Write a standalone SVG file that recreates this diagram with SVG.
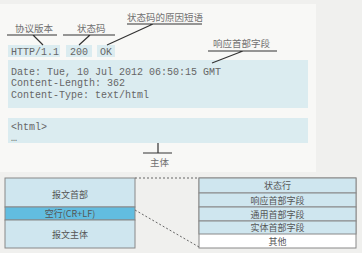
<svg xmlns="http://www.w3.org/2000/svg" width="362" height="253" viewBox="0 0 362 253">
  <style>
    .code { font-family: "Liberation Mono", "DejaVu Sans Mono", monospace; font-size: 10px; fill: #666; }
    .lbl { font-family: "Noto Sans CJK SC", "Noto Sans", sans-serif; font-size: 9.5px; fill: #707070; }
    .cell { font-family: "Noto Sans CJK SC", "Noto Sans", sans-serif; font-size: 9px; fill: #555; text-anchor: middle; }
    .hl { fill: #dbecf0; }
    .rule { stroke: #333; stroke-width: 1.2; fill: none; }
    .dash { stroke: #666; stroke-width: 1; stroke-dasharray: 2 2; fill: none; }
    .box { stroke: #888; stroke-width: 1; }
  </style>

  <!-- page background and upper message panel -->
  <rect x="0" y="0" width="362" height="253" fill="#f0f0ee"/>
  <rect x="0" y="4" width="316" height="168" fill="#f8f8f6"/>

  <!-- HTTP response message -->
  <g id="status-line">
    <rect class="hl" x="8" y="45" width="52" height="12"/>
    <rect class="hl" x="66" y="45" width="26" height="12"/>
    <rect class="hl" x="97" y="45" width="18" height="12"/>
    <text class="code" x="11" y="55">HTTP/1.1</text>
    <text class="code" x="70" y="55">200</text>
    <text class="code" x="100" y="55">OK</text>
  </g>
  <g id="header-fields">
    <rect class="hl" x="8" y="60" width="300" height="48"/>
    <text class="code" x="11" y="74.5">Date: Tue, 10 Jul 2012 06:50:15 GMT</text>
    <text class="code" x="11" y="86">Content-Length: 362</text>
    <text class="code" x="11" y="97.5">Content-Type: text/html</text>
  </g>
  <g id="body">
    <rect class="hl" x="8" y="118" width="300" height="25"/>
    <text class="code" x="11" y="130">&lt;html&gt;</text>
    <text class="code" x="11" y="141">…</text>
  </g>

  <!-- callout labels -->
  <g id="label-version">
    <text class="lbl" x="15" y="31.5">协议版本</text>
  </g>
  <g id="label-status-code">
    <text class="lbl" x="77" y="31.5">状态码</text>
  </g>
  <g id="label-reason-phrase">
    <text class="lbl" x="127" y="20.5" font-size="9">状态码的原因短语</text>
  </g>
  <g id="label-response-headers">
    <text class="lbl" x="213" y="47" font-size="9">响应首部字段</text>
  </g>
  <g id="label-body">
    <text class="lbl" x="150" y="165.5" font-size="9">主体</text>
  </g>

  <!-- message structure -->
  <g id="message-parts">
    <rect class="box" x="5" y="178" width="130" height="29" fill="#cfe6ef"/>
    <rect class="box" x="5" y="207" width="130" height="13" fill="#62bde0"/>
    <rect class="box" x="5" y="220" width="130" height="28" fill="#cfe6ef"/>
    <text class="cell" x="70" y="198">报文首部</text>
    <text class="cell" x="70" y="217">空行(CR+LF)</text>
    <text class="cell" x="70" y="237.5">报文主体</text>
  </g>

  <!-- header section breakdown -->
  <g id="header-breakdown">
    <rect x="199" y="178" width="157" height="70" fill="#ffffff" stroke="#888"/>
    <rect x="199" y="178" width="157" height="15" fill="#cfe6ef" stroke="#888"/>
    <rect x="199" y="193" width="157" height="14" fill="#cfe6ef" stroke="#888"/>
    <rect x="199" y="207" width="157" height="14" fill="#cfe6ef" stroke="#888"/>
    <rect x="199" y="221" width="157" height="13" fill="#cfe6ef" stroke="#888"/>
    <text class="cell" x="277.5" y="189">状态行</text>
    <text class="cell" x="277.5" y="203.5">响应首部字段</text>
    <text class="cell" x="277.5" y="217.5">通用首部字段</text>
    <text class="cell" x="277.5" y="231">实体首部字段</text>
    <text class="cell" x="277.5" y="244.5">其他</text>
  </g>

  <!-- connectors -->
  <g id="connectors">
    <path class="rule" d="M7 35 H57 M33 35 L43 45"/>
    <path class="rule" d="M63 35 H115 M90 35 L79 45"/>
    <path class="rule" d="M127 24 H202 M153 24 L107 45"/>
    <path class="rule" d="M208 51 H277 M243 51 L212 63"/>
    <path class="rule" d="M158 143 V153 M143 153 H172"/>
    <path class="dash" d="M135 178 H199"/>
    <path class="dash" d="M135 210 L199 247"/>
  </g>
</svg>
